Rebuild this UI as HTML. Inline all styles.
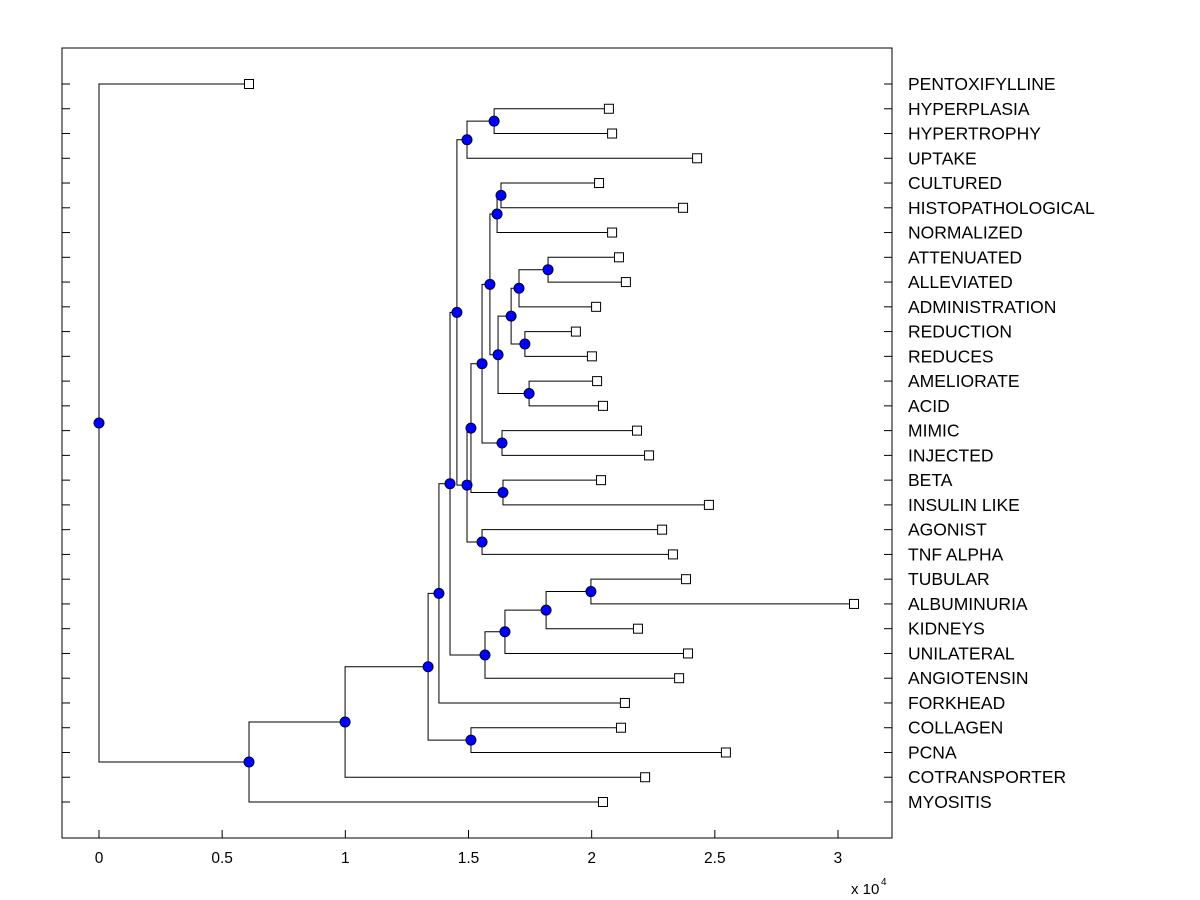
<!DOCTYPE html>
<html><head><meta charset="utf-8"><style>
html,body{margin:0;padding:0;background:#fff;}
svg{display:block;font-family:"Liberation Sans",Arial,sans-serif;}
</style></head><body>
<svg id="chart" width="1200" height="900" viewBox="0 0 1200 900" xmlns="http://www.w3.org/2000/svg">
<rect x="0" y="0" width="1200" height="900" fill="#fff"/>
<g id="plot"></g>
</svg>
<script>
const leafNames = ["PENTOXIFYLLINE","HYPERPLASIA","HYPERTROPHY","UPTAKE","CULTURED","HISTOPATHOLOGICAL","NORMALIZED","ATTENUATED","ALLEVIATED","ADMINISTRATION","REDUCTION","REDUCES","AMELIORATE","ACID","MIMIC","INJECTED","BETA","INSULIN LIKE","AGONIST","TNF ALPHA","TUBULAR","ALBUMINURIA","KIDNEYS","UNILATERAL","ANGIOTENSIN","FORKHEAD","COLLAGEN","PCNA","COTRANSPORTER","MYOSITIS"];
const leafValues = [0.609,2.070,2.083,2.428,2.030,2.371,2.083,2.111,2.139,2.018,1.936,2.001,2.022,2.046,2.184,2.233,2.038,2.476,2.286,2.330,2.383,3.065,2.188,2.391,2.355,2.135,2.119,2.545,2.217,2.046];
const nodeLeft  = [1,30,4,32,7,34,10,35,12,37,33,14,40,16,42,18,44,31,20,48,49,50,47,52,26,53,55,56,0];
const nodeRight = [2,3,5,6,8,9,11,36,13,38,39,15,41,17,43,19,45,46,21,22,23,24,51,25,27,54,28,29,57];
const nodeHeights = [1.604,1.494,1.632,1.616,1.823,1.705,1.729,1.673,1.746,1.620,1.587,1.636,1.555,1.640,1.510,1.555,1.494,1.453,1.997,1.815,1.648,1.567,1.425,1.380,1.510,1.336,0.999,0.609,0];
const xTicks = [0,0.5,1,1.5,2,2.5,3];
const xTickLabels = ["0","0.5","1","1.5","2","2.5","3"];

const NS="http://www.w3.org/2000/svg";
const g=document.getElementById('plot');
const L=62,T=48,R=892,B=838;
const xs=v=>99+v*246.33;
const ys=i=>84+i*(802-84)/(leafNames.length-1);
function mk(tag,attrs,parent){const e=document.createElementNS(NS,tag);for(const k in attrs)e.setAttribute(k,attrs[k]);(parent||g).appendChild(e);return e;}

let box=mk('rect',{x:L,y:T,width:R-L,height:B-T,fill:'none',stroke:'#000','stroke-width':1});



xTicks.forEach((v,i)=>{
  const x=xs(v);
  let t=mk('line',{x1:x,y1:B,x2:x,y2:B-8,stroke:'#000'});
  
  
  let lb=mk('text',{x:x,y:863,'text-anchor':'middle','font-size':15.5,fill:'#000'});
  lb.textContent=xTickLabels[i];
  
  
});
let ex=mk('text',{x:851,y:894,'font-size':15,fill:'#000'});
ex.textContent='x 10';


let ex2=mk('text',{x:881,y:885,'font-size':10,fill:'#000'});
ex2.textContent='4';



leafNames.forEach((n,i)=>{
  const y=ys(i);
  let a=mk('line',{x1:L,y1:y,x2:L+8,y2:y,stroke:'#000'});
  
  
  let b=mk('line',{x1:R-8,y1:y,x2:R,y2:y,stroke:'#000'});
  
  
  let t=mk('text',{x:908,y:y+6,'font-size':17.5,fill:'#000'});
  t.textContent=n;
  
  
});

const N=leafNames.length;
const px=[],py=[];
for(let i=0;i<N;i++){px[i]=xs(leafValues[i]);py[i]=ys(i);}
for(let j=0;j<nodeHeights.length;j++){
  const id=N+j,a=nodeLeft[j],b=nodeRight[j];
  px[id]=xs(nodeHeights[j]);py[id]=(py[a]+py[b])/2;
}
const lines=mk('g',{stroke:'#000','stroke-width':1,fill:'none'});


for(let j=0;j<nodeHeights.length;j++){
  const id=N+j,a=nodeLeft[j],b=nodeRight[j];
  const p=document.createElementNS(NS,'path');
  p.setAttribute('d',`M${px[a]},${py[a]}H${px[id]}V${py[b]}H${px[b]}`);
  
  
  lines.appendChild(p);
}
for(let i=0;i<N;i++){
  let s=mk('rect',{x:px[i]-4.5,y:py[i]-4.5,width:9,height:9,fill:'#fff',stroke:'#000'});
  
  
}
for(let j=0;j<nodeHeights.length;j++){
  const id=N+j;
  let c=mk('circle',{cx:px[id],cy:py[id],r:5,fill:'#0000ff',stroke:'#000033','stroke-width':1});
  
  
}
</script>
</body></html>
